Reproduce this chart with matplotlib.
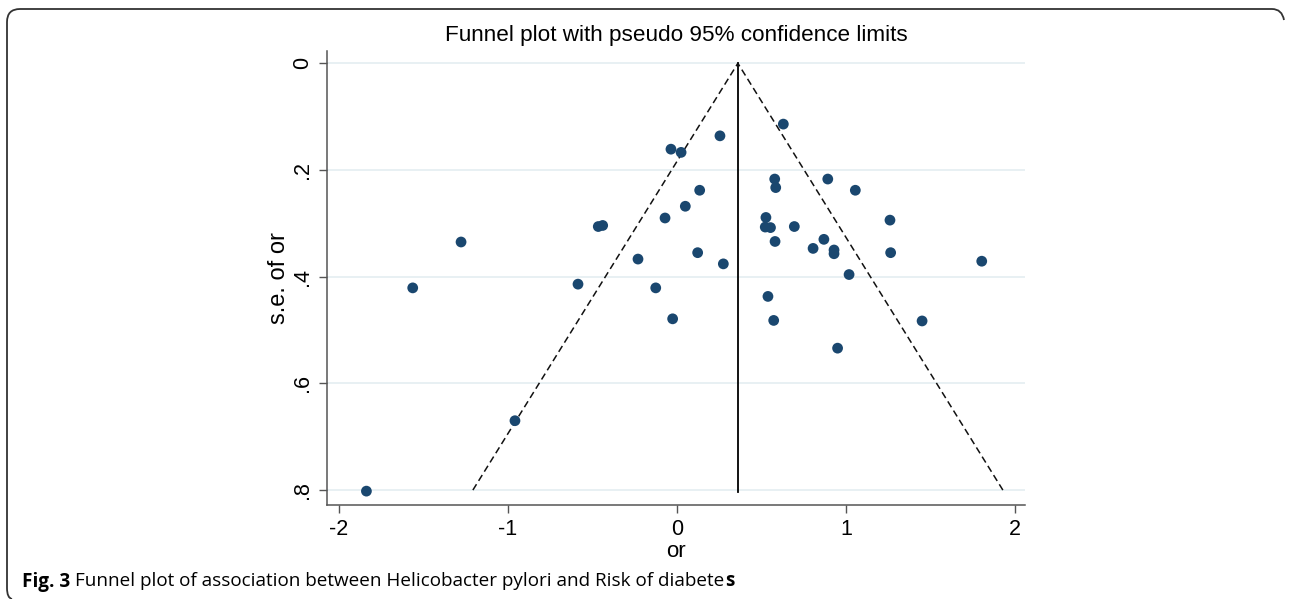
import matplotlib
matplotlib.use("Agg")
import matplotlib.pyplot as plt
from matplotlib.path import Path
from matplotlib.patches import PathPatch
import numpy as np

# ---- data (log odds ratio and its standard error) ----
effect = [-1.838, -0.959, -1.564, -1.278, -0.586, -0.466, -0.440, -0.231, -0.126, -0.071,
          -0.036, -0.026, 0.024, 0.049, 0.122, 0.134, 0.254, 0.274, 0.526, 0.522,
          0.553, 0.538, 0.572, 0.578, 0.584, 0.580, 0.629, 0.694, 0.805, 0.869,
          0.892, 0.929, 0.929, 0.950, 1.018, 1.055, 1.260, 1.264, 1.450, 1.803]
se = [0.802, 0.670, 0.421, 0.335, 0.414, 0.306, 0.304, 0.367, 0.421, 0.290,
      0.161, 0.479, 0.167, 0.268, 0.355, 0.238, 0.136, 0.376, 0.289, 0.307,
      0.308, 0.437, 0.482, 0.217, 0.233, 0.334, 0.114, 0.306, 0.347, 0.330,
      0.217, 0.350, 0.357, 0.534, 0.396, 0.238, 0.294, 0.355, 0.483, 0.371]
pooled = 0.36
se_max = 0.80
x_ticks = [-2, -1, 0, 1, 2]
x_ticklabels = ["-2", "-1", "0", "1", "2"]
y_ticks = [0, 0.2, 0.4, 0.6, 0.8]
y_ticklabels = ["0", ".2", ".4", ".6", ".8"]

W, H = 1290, 599
fig = plt.figure(figsize=(W / 100, H / 100), dpi=100)
fig.patch.set_facecolor("white")

ax = fig.add_axes([326.7 / W, 1 - 505 / H, (1025 - 326.7) / W, (505 - 50.7) / H])
ax.set_xlim(-2.073, 2.059)
ax.set_ylim(0.828, -0.0236)

for s in ["top", "right"]:
    ax.spines[s].set_visible(False)
for s in ["left", "bottom"]:
    ax.spines[s].set_color("#555555")
    ax.spines[s].set_linewidth(1.1)

ax.set_yticks(y_ticks)
ax.set_yticklabels(y_ticklabels, rotation=90, va="center")
ax.set_xticks(x_ticks)
ax.set_xticklabels(x_ticklabels)
ax.tick_params(axis="both", length=6, width=1.0, color="#555555",
               labelsize=15.5, pad=4)
for lab in ax.get_xticklabels() + ax.get_yticklabels():
    lab.set_family("Liberation Sans")

ax.grid(axis="y", color="#e6eff2", linewidth=1.3)
ax.set_axisbelow(True)

# funnel
ax.plot([pooled, pooled], [0, se_max + 0.003], color="black", linewidth=1.3, zorder=2)
ax.plot([pooled - 1.96 * se_max, pooled, pooled + 1.96 * se_max], [se_max, 0, se_max],
        color="#111111", linewidth=1.1, dashes=(4.5, 2.6), zorder=2)

ax.scatter(effect, se, s=60, color="#1a476f", edgecolors="none", zorder=3)

ax.set_xlabel("or", fontsize=16, family="Liberation Sans", labelpad=1)
ax.set_ylabel("s.e. of or", fontsize=17, family="Liberation Sans", labelpad=1)

fig.text(676 / W, 1 - 35 / H, "Funnel plot with pseudo 95% confidence limits",
         ha="center", va="center", fontsize=16.2, family="Liberation Sans")

# frame (rounded, open at right/bottom as in reference)
def fp(x, y):
    return (x / W, 1 - y / H)

verts = [fp(1284, 20), fp(1282, 9), fp(1272, 9),
         fp(20, 9), fp(7, 9), fp(7, 22),
         fp(7, 588), fp(7, 598), fp(12, 599)]
codes = [Path.MOVETO, Path.CURVE3, Path.CURVE3,
         Path.LINETO, Path.CURVE3, Path.CURVE3,
         Path.LINETO, Path.CURVE3, Path.CURVE3]
fig.add_artist(PathPatch(Path(verts, codes), transform=fig.transFigure,
                         facecolor="none", edgecolor="#333333", linewidth=1.3))

# caption
fig.canvas.draw()
r = fig.canvas.get_renderer()
base_y = 1 - 586.5 / H
cap_size = 13.6
t1 = fig.text(22 / W, base_y, "Fig. 3", fontsize=cap_size, family="Open Sans",
              weight="bold", va="baseline")
bb = t1.get_window_extent(renderer=r)
t2 = fig.text(bb.x1 / W + 5 / W, base_y,
              "Funnel plot of association between Helicobacter pylori and Risk of diabete",
              fontsize=cap_size, family="Open Sans", va="baseline")
bb2 = t2.get_window_extent(renderer=r)
fig.text((bb2.x1 + 0.5) / W, base_y, "s", fontsize=cap_size, family="Open Sans",
         weight="bold", va="baseline")

fig.savefig("out.png", dpi=100)
